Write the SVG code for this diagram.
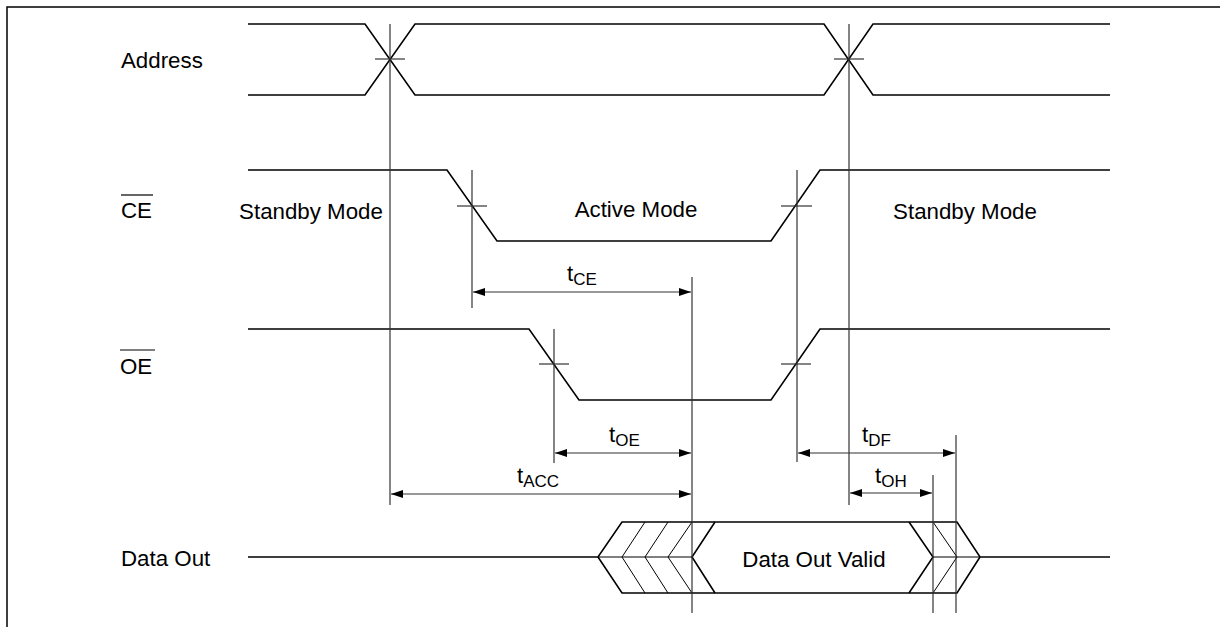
<svg xmlns="http://www.w3.org/2000/svg" width="1220" height="627" viewBox="0 0 1220 627">
<style>
.sig{fill:none;stroke:#000;stroke-width:1.6;stroke-linejoin:miter}
.thin{fill:none;stroke:#000;stroke-width:1}
.ref{fill:none;stroke:#333;stroke-width:1.2}
.dim{fill:none;stroke:#333;stroke-width:1.2}
.lbl{font-family:"Liberation Sans",Arial,sans-serif;font-size:22.3px;fill:#000}
.sub{font-size:17px}
</style>
<defs>
<marker id="ah" viewBox="0 0 12 8" refX="12" refY="4" markerWidth="12" markerHeight="8" markerUnits="userSpaceOnUse" orient="auto-start-reverse">
<path d="M0,0 L12,4 L0,8 Z" fill="#000"/>
</marker>
</defs>
<rect width="1220" height="627" fill="#fff"/>
<path d="M7,627 V7 H1220" fill="none" stroke="#000" stroke-width="1.5"/>

<g id="labels">
<text class="lbl" x="121" y="68">Address</text>
<text class="lbl" x="121" y="218">CE</text>
<line x1="121" y1="195" x2="153" y2="195" stroke="#000" stroke-width="1.2"/>
<text class="lbl" x="120" y="374">OE</text>
<line x1="120" y1="350" x2="155" y2="350" stroke="#000" stroke-width="1.2"/>
<text class="lbl" x="121" y="566">Data Out</text>
</g>

<g id="address">
<path class="sig" d="M248,24 H365 L415,95 H824 L873,24 H1110"/>
<path class="sig" d="M248,95 H365 L415,24 H824 L873,95 H1110"/>
<line class="ref" x1="375" y1="59" x2="405" y2="59"/>
<line class="ref" x1="834" y1="59" x2="864" y2="59"/>
</g>

<g id="ce">
<path class="sig" d="M248,170 H447 L497,241 H771 L820,170 H1110"/>
<line class="ref" x1="457" y1="206" x2="487" y2="206"/>
<line class="ref" x1="781" y1="206" x2="812" y2="206"/>
<text class="lbl" x="311" y="219" text-anchor="middle">Standby Mode</text>
<text class="lbl" x="636" y="217" text-anchor="middle">Active Mode</text>
<text class="lbl" x="965" y="219" text-anchor="middle">Standby Mode</text>
</g>

<g id="oe">
<path class="sig" d="M248,329 H529 L579,400 H771 L820,329 H1110"/>
<line class="ref" x1="539" y1="364" x2="569" y2="364"/>
<line class="ref" x1="781" y1="364" x2="811" y2="364"/>
</g>

<g id="dataout">
<path class="sig" d="M248,557 H598 L622,522 H957 L980,557 H1110"/>
<path class="sig" d="M598,557 L622,593 H957 L980,557"/>
<path class="sig" d="M715,522 L692,557 L715,593"/>
<path class="sig" d="M909,522 L933,557 L909,593"/>
<path class="thin" d="M645,522 L622,557 L645,593 M668,522 L645,557 L668,593 M692,522 L668,557 L692,593 M598,557 H692"/>
<path class="thin" d="M933,522 L957,557 L933,593 M933,557 H980"/>
<text class="lbl" x="814" y="567" text-anchor="middle">Data Out Valid</text>
</g>

<g id="connectors">
<line class="ref" x1="390" y1="24" x2="390" y2="505"/>
<line class="ref" x1="849" y1="24" x2="849" y2="505"/>
<line class="ref" x1="472" y1="170" x2="472" y2="308"/>
<line class="ref" x1="554" y1="329" x2="554" y2="463"/>
<line class="ref" x1="692" y1="277" x2="692" y2="613"/>
<line class="ref" x1="797" y1="170" x2="797" y2="462"/>
<line class="ref" x1="933" y1="475" x2="933" y2="613"/>
<line class="ref" x1="956" y1="435" x2="956" y2="613"/>

<line class="dim" x1="473" y1="292" x2="691" y2="292" marker-start="url(#ah)" marker-end="url(#ah)"/>
<line class="dim" x1="555" y1="453" x2="691" y2="453" marker-start="url(#ah)" marker-end="url(#ah)"/>
<line class="dim" x1="391" y1="494" x2="691" y2="494" marker-start="url(#ah)" marker-end="url(#ah)"/>
<line class="dim" x1="798" y1="453" x2="955" y2="453" marker-start="url(#ah)" marker-end="url(#ah)"/>
<line class="dim" x1="850" y1="493" x2="932" y2="493" marker-start="url(#ah)" marker-end="url(#ah)"/>

<text class="lbl" x="567" y="281">t<tspan class="sub" dy="4">CE</tspan></text>
<text class="lbl" x="609" y="442">t<tspan class="sub" dy="4">OE</tspan></text>
<text class="lbl" x="517" y="483">t<tspan class="sub" dy="4">ACC</tspan></text>
<text class="lbl" x="862" y="442">t<tspan class="sub" dy="4">DF</tspan></text>
<text class="lbl" x="875" y="483">t<tspan class="sub" dy="4">OH</tspan></text>
</g>
</svg>
